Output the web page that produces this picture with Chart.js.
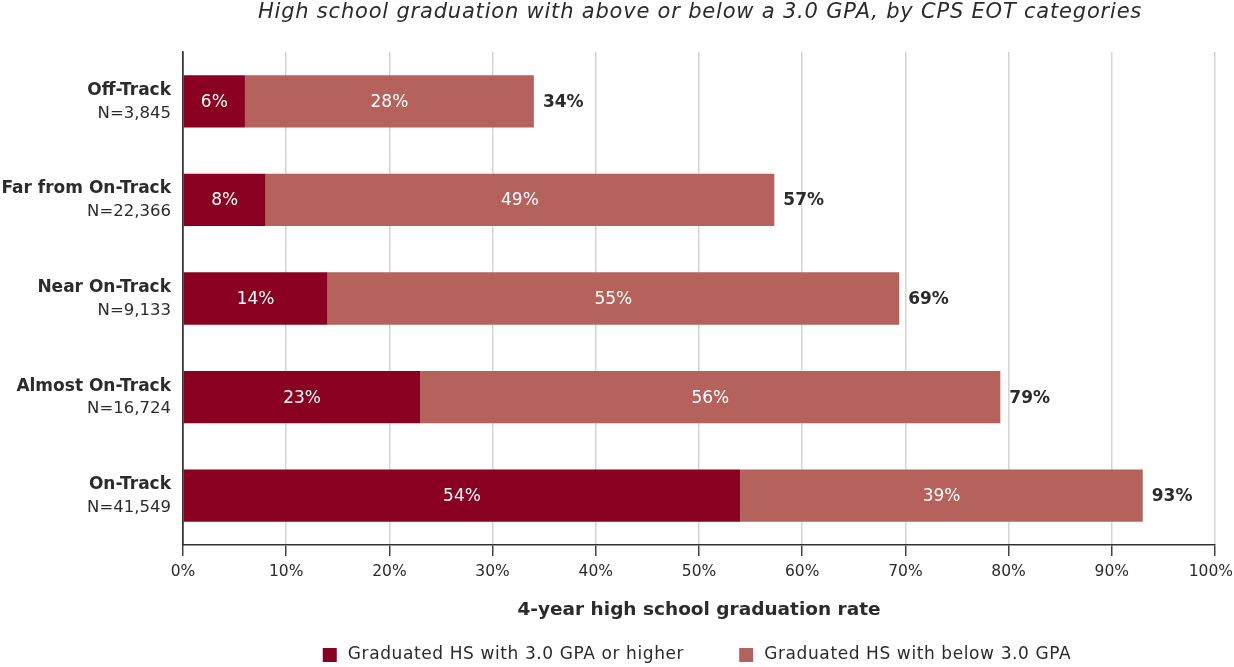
<!DOCTYPE html>
<html><head><meta charset="utf-8">
<script src="https://cdn.jsdelivr.net/npm/chart.js@4.4.0/dist/chart.umd.min.js"></script>
<style>html,body{margin:0;padding:0;background:#fff}#wrap{width:1234px;height:667px;position:relative}</style>
</head><body><div id="wrap"><canvas id="c" width="1234" height="667"></canvas></div>
<script>
const categories = ["Off-Track", "Far from On-Track", "Near On-Track", "Almost On-Track", "On-Track"];
const categoryN = ["N=3,845", "N=22,366", "N=9,133", "N=16,724", "N=41,549"];
const gpaAbove = [6, 8, 14, 23, 54];
const gpaBelow = [28, 49.3, 55.4, 56.2, 39];
const seriesNames = ["Graduated HS with 3.0 GPA or higher", "Graduated HS with below 3.0 GPA"];
const xTicks = [0,10,20,30,40,50,60,70,80,90,100];
const titleText = "High school graduation with above or below a 3.0 GPA, by CPS EOT categories";
const xTitle = "4-year high school graduation rate";

const FONT = "'DejaVu Sans', sans-serif";
const TXT = "#2b2b2b";
const COLORS = ["#8a0020", "#b4625b"];

function setLS(ctx, v) { if ('letterSpacing' in ctx) ctx.letterSpacing = v + "px"; }

const customDraw = {
  id: 'customDraw',
  afterDatasetsDraw(chart) {
    const ctx = chart.ctx;
    const x = chart.scales.x, y = chart.scales.y;
    ctx.save();
    chart.data.datasets.forEach((ds, di) => {
      const meta = chart.getDatasetMeta(di);
      meta.data.forEach((bar, i) => {
        const cx = (bar.x + bar.base) / 2;
        ctx.fillStyle = "#ffffff";
        ctx.font = "400 17px " + FONT;
        ctx.textAlign = "center"; ctx.textBaseline = "middle";
        ctx.fillText(Math.round(ds.data[i]) + "%", cx, bar.y + 1);
      });
    });
    categories.forEach((c, i) => {
      const total = gpaAbove[i] + gpaBelow[i];
      const px = x.getPixelForValue(total);
      const py = y.getPixelForValue(i);
      ctx.fillStyle = TXT;
      ctx.font = "700 17px " + FONT;
      ctx.textAlign = "left"; ctx.textBaseline = "middle";
      ctx.fillText(Math.round(total) + "%", px + 9, py + 1);
    });
    categories.forEach((c, i) => {
      const py = y.getPixelForValue(i);
      ctx.textAlign = "right"; ctx.textBaseline = "middle";
      ctx.fillStyle = TXT;
      ctx.font = "700 17px " + FONT;
      ctx.fillText(c, 171, py - 11);
      ctx.font = "400 16.5px " + FONT;
      ctx.fillText(categoryN[i], 171, py + 12);
    });
    ctx.font = "400 15.5px " + FONT;
    ctx.textBaseline = "middle";
    xTicks.forEach(v => {
      const label = v + "%";
      const w = ctx.measureText(label).width;
      let px = x.getPixelForValue(v) - w / 2;
      px = Math.min(px, chart.width - 1 - w);
      ctx.textAlign = "left";
      ctx.fillText(label, px, x.top + 27);
    });
    ctx.restore();
  },
  afterDraw(chart) {
    const ctx = chart.ctx;
    ctx.save();
    ctx.fillStyle = TXT;
    ctx.font = "italic 400 21px " + FONT;
    setLS(ctx, 0.8);
    ctx.textAlign = "center"; ctx.textBaseline = "middle";
    ctx.fillText(titleText, 700, 13);
    setLS(ctx, 0);
    ctx.font = "700 18.5px " + FONT;
    ctx.fillText(xTitle, (chart.chartArea.left + chart.chartArea.right) / 2, 610);
    ctx.font = "400 17px " + FONT;
    setLS(ctx, 0.6);
    ctx.textAlign = "left";
    const items = chart.data.datasets.map(d => ({label: d.label, color: d.backgroundColor}));
    const box = 14, gapText = 11, gapItem = 55;
    let widths = items.map(it => box + gapText + ctx.measureText(it.label).width);
    let totalW = widths.reduce((a, b) => a + b, 0) + gapItem * (items.length - 1);
    let lx = 697 - totalW / 2;
    const ly = 655;
    items.forEach((it, k) => {
      ctx.fillStyle = it.color;
      ctx.fillRect(lx, ly - box / 2, box, box);
      ctx.fillStyle = TXT;
      ctx.fillText(it.label, lx + box + gapText, ly);
      lx += widths[k] + gapItem;
    });
    ctx.restore();
  }
};

new Chart(document.getElementById('c'), {
  type: 'bar',
  data: {
    labels: categories,
    datasets: [
      {label: seriesNames[0], data: gpaAbove, backgroundColor: COLORS[0], barPercentage: 0.53, categoryPercentage: 1.0},
      {label: seriesNames[1], data: gpaBelow, backgroundColor: COLORS[1], barPercentage: 0.53, categoryPercentage: 1.0}
    ]
  },
  options: {
    indexAxis: 'y',
    responsive: false,
    animation: false,
    devicePixelRatio: 1,
    layout: {padding: {top: 52, right: 19, bottom: 0, left: 0}},
    plugins: {legend: {display: false}, tooltip: {enabled: false}, title: {display: false}},
    scales: {
      x: {
        stacked: true, min: 0, max: 100,
        afterBuildTicks: s => { s.ticks = xTicks.map(v => ({value: v})); },
        afterFit: s => { s.height = 122; s.paddingLeft = 0; s.paddingRight = 0; },
        ticks: {display: false},
        grid: {color: ctx => ctx.index === 0 ? "#333" : "#d4d4d4", lineWidth: 1.5, tickLength: 11, tickColor: "#444", drawOnChartArea: true, drawTicks: true},
        border: {color: "#333", width: 1.5}
      },
      y: {
        stacked: true,
        afterFit: s => { s.width = 183; },
        ticks: {display: false},
        grid: {display: false, drawTicks: false},
        border: {display: true, color: "#333", width: 1.5}
      }
    }
  },
  plugins: [customDraw]
});
</script>
</body></html>
